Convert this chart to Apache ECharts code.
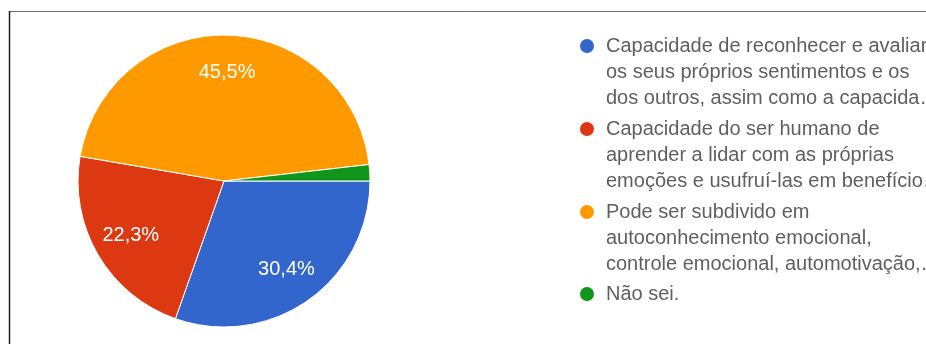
<!DOCTYPE html>
<html>
<head>
<meta charset="utf-8">
<style>
  html, body { margin: 0; padding: 0; background: #ffffff; }
  #chart { width: 926px; height: 344px; }
</style>
<script src="https://cdn.jsdelivr.net/npm/echarts@6/dist/echarts.min.js"></script>
</head>
<body>
<div id="chart"></div>
<script>
// Answer options, as shown (wrapped and shortened) in the legend
const categories = [
  'Capacidade de reconhecer e avaliar\nos seus próprios sentimentos e os\ndos outros, assim como a capacida…',
  'Capacidade do ser humano de\naprender a lidar com as próprias\nemoções e usufruí-las em benefício…',
  'Pode ser subdivido em\nautoconhecimento emocional,\ncontrole emocional, automotivação,…',
  'Não sei.'
];
// Share of responses (%)
const shares = [30.4, 22.3, 45.5, 1.8];
const colors = ['#3366cc', '#dc3912', '#ff9900', '#109618'];

const pieCenter = [224, 181];
const pieRadius = 146;

const fmt = v => v.toFixed(1).replace('.', ',') + '%';
const lineCount = s => s.split('\n').length;

const pieData = categories.map((name, i) => ({
  name,
  value: shares[i],
  itemStyle: { color: colors[i] }
}));

const labelData = categories.map((name, i) => ({
  name,
  value: shares[i],
  label: { show: shares[i] >= 5 }
}));

// One legend block per answer; the marker sits beside the first text line.
// Legend text is centred on its marker, so blank lines are put in front of
// wrapped labels to bring their first line level with the marker
// (the blank lines also count in the block's box, hence the raised tops).
const legendLeft = 573;
const legendRowTop = [-24, 59, 142, 276];
const legends = categories.map((name, i) => ({
  orient: 'vertical',
  left: legendLeft,
  top: legendRowTop[i],
  itemWidth: 16,
  itemHeight: 16,
  icon: 'circle',
  selectedMode: false,
  data: [name],
  formatter: n => '\n'.repeat(lineCount(n) - 1) + n,
  textStyle: {
    fontFamily: 'Liberation Sans, Arial, sans-serif',
    fontSize: 20,
    lineHeight: 26,
    color: '#5f5f5f',
    padding: [0, 0, 0, 6]
  }
}));

const chart = echarts.init(document.getElementById('chart'), null, { renderer: 'canvas' });

chart.setOption({
  animation: false,
  backgroundColor: '#ffffff',
  legend: legends,
  series: [
    {
      type: 'pie',
      center: pieCenter,
      radius: [0, pieRadius],
      startAngle: 0,
      clockwise: true,
      silent: true,
      label: { show: false },
      labelLine: { show: false },
      itemStyle: { borderColor: '#ffffff', borderWidth: 1 },
      data: pieData
    },
    {
      // invisible ring that carries the percentage labels at ~0.72 r
      type: 'pie',
      center: pieCenter,
      radius: [pieRadius * 0.44, pieRadius],
      startAngle: 0,
      clockwise: true,
      silent: true,
      itemStyle: { color: 'rgba(0,0,0,0)' },
      labelLine: { show: false },
      label: {
        position: 'inside',
        formatter: p => fmt(p.value),
        color: '#ffffff',
        fontFamily: 'Liberation Sans, Arial, sans-serif',
        fontSize: 20
      },
      data: labelData
    }
  ],
  graphic: [
    {
      type: 'line',
      shape: { x1: 9, y1: 11.5, x2: 926, y2: 11.5 },
      style: { stroke: '#6e6e6e', lineWidth: 1 }
    },
    {
      type: 'line',
      shape: { x1: 9.5, y1: 11, x2: 9.5, y2: 344 },
      style: { stroke: '#1e1e1e', lineWidth: 1.5 }
    }
  ]
});
</script>
</body>
</html>
